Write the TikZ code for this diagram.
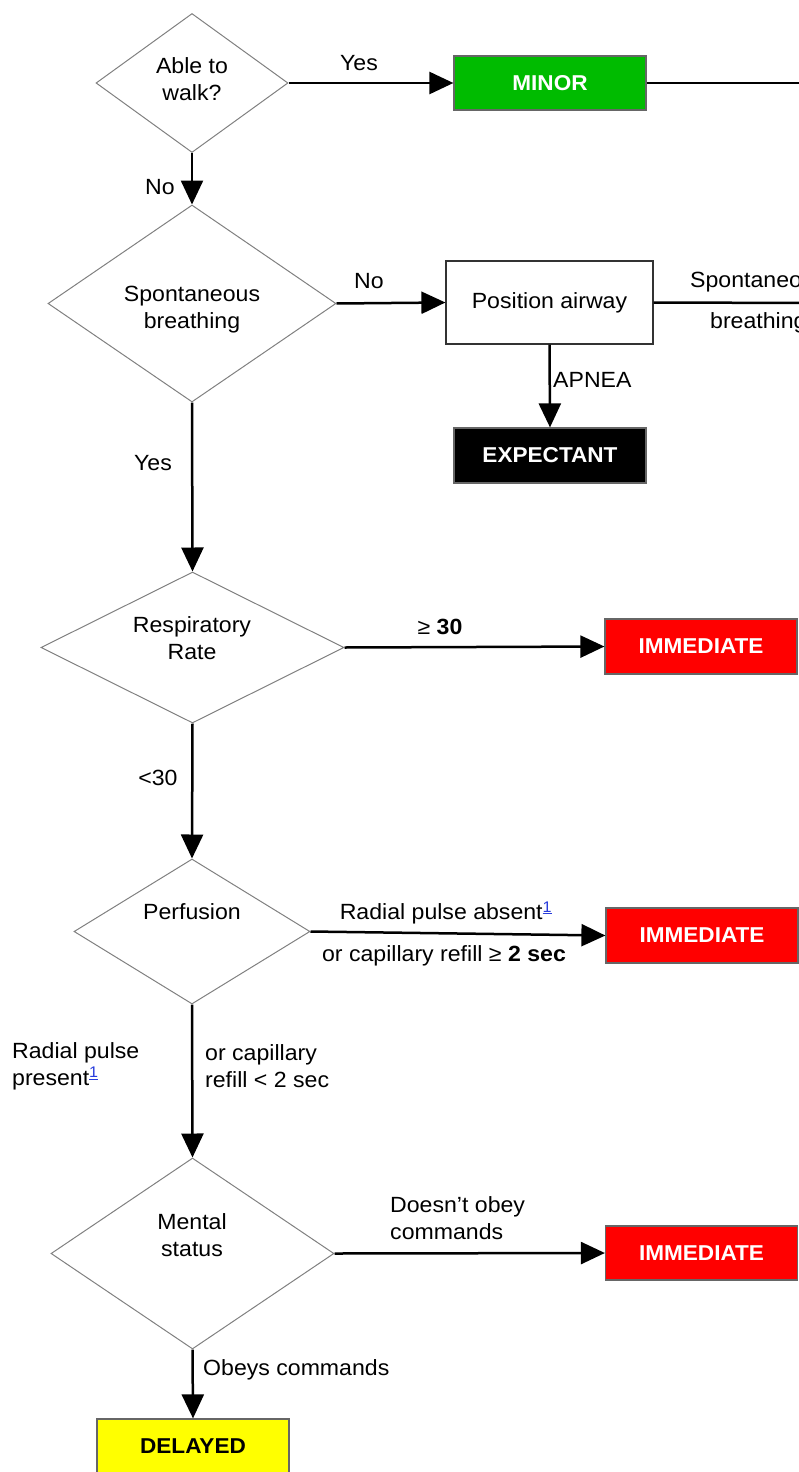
\documentclass[tikz,border=0pt]{standalone}
\usepackage{fontspec}
\setmainfont{Liberation Sans}[FakeStretch=1.05]
\usetikzlibrary{shapes.geometric,arrows.meta}
\definecolor{minorgreen}{RGB}{0,187,0}
\definecolor{immred}{RGB}{255,0,0}
\definecolor{delyellow}{RGB}{255,255,0}
\definecolor{linkblue}{RGB}{40,60,220}
\newcommand{\fsz}{\fontsize{22}{27}\selectfont}
\newcommand{\bsz}{\fontsize{21.5}{26}\selectfont}
\newcommand{\fnref}{\textsuperscript{\color{linkblue}\underline{1}}}
\tikzset{
  dec/.style={diamond, draw=black!50, line width=1pt, inner sep=0pt, aspect=1},
  catbox/.style={rectangle, draw=black!60, line width=1.2pt, inner sep=0pt,
    font=\bfseries\bsz, text=white, minimum width=192pt, minimum height=54pt},
  conn/.style={line width=2.5pt, -{Triangle[length=24pt,width=22pt]}},
  plainline/.style={line width=2.5pt},
  lbl/.style={font=\fsz, inner sep=0pt, align=left},
  dtext/.style={font=\fsz, inner sep=0pt, align=center},
}
\begin{document}
\begin{tikzpicture}[x=1pt,y=-1pt]
\useasboundingbox (0,0) rectangle (799,1472);
\begin{scope}
\clip (0,0) rectangle (799,1472);
% decisions
\node[dec, minimum width=192pt, minimum height=139pt] (d1) at (192,83) {};
\node[dtext] (t1) at (192,79) {Able to\\walk?};
\node[dec, minimum width=288pt, minimum height=197pt] (d2) at (192,303.5) {};
\node[dtext] (t2) at (192,310) {Spontaneous\\breathing};
\node[dec, minimum width=303pt, minimum height=151pt] (d3) at (192.5,647.5) {};
\node[dtext] (t3) at (192,638.5) {Respiratory\\Rate};
\node[dec, minimum width=236pt, minimum height=145pt] (d4) at (192,931.5) {};
\node[dtext] (t4) at (192,912) {Perfusion};
\node[dec, minimum width=283pt, minimum height=191pt] (d5) at (192.5,1253.5) {};
\node[dtext] (t5) at (192,1235.5) {Mental\\status};
% boxes
\node[catbox, fill=minorgreen] (minor) at (550,83) {MINOR};
\node[rectangle, draw=black!80, line width=1.2pt, inner sep=0pt, font=\fsz,
  minimum width=207pt, minimum height=83pt] (pa) at (549.5,302.5) {Position airway};
\node[catbox, fill=black, minimum height=55pt] (exp) at (550,455.5) {EXPECTANT};
\node[catbox, fill=immred, minimum height=55pt] (imm1) at (701,646.5) {IMMEDIATE};
\node[catbox, fill=immred, minimum height=55pt] (imm2) at (702,935.5) {IMMEDIATE};
\node[catbox, fill=immred] (imm3) at (701.5,1253) {IMMEDIATE};
\node[catbox, fill=delyellow, text=black, minimum height=55pt] (del) at (193,1446.5) {DELAYED};
\coordinate (r1) at (812,83);
\coordinate (r2) at (812,303);
% connectors
\draw[conn] (d1.east) -- (minor.west);
\draw[plainline] (minor.east) -- (r1);
\draw[conn] (d1.south) -- (d2.north);
\draw[conn] (d2.east) -- (pa.west);
\draw[plainline] (pa.east) -- (r2);
\draw[conn] (pa.south) -- (exp.north);
\draw[conn] (d2.south) -- (d3.north);
\draw[conn] (d3.east) -- (imm1.west);
\draw[conn] (d3.south) -- (d4.north);
\draw[conn] (d4.east) -- (imm2.west);
\draw[conn] (d4.south) -- (d5.north);
\draw[conn] (d5.east) -- (imm3.west);
\draw[conn] (d5.south) -- (del.north);
% labels
\node[lbl] (l1) at (359,63) {Yes};
\node[lbl] (l2) at (160,187) {No};
\node[lbl] (l3) at (369,281) {No};
\node[lbl, anchor=west] (l4) at (690,282) {Spontaneous};
\node[lbl, anchor=west] (l5) at (710,323) {breathing};
\node[lbl, anchor=west] (l6) at (553,380) {APNEA};
\node[lbl] (l7) at (153,463) {Yes};
\node[lbl] (l8) at (440,627) {≥ \textbf{30}};
\node[lbl] (l9) at (158,778) {<30};
\node[lbl] (l10) at (446,913) {Radial pulse absent\fnref};
\node[lbl] (l11) at (444,956) {or capillary refill ≥ \textbf{2 sec}};
\node[lbl, anchor=west] (l12) at (12,1066) {Radial pulse\\present\fnref};
\node[lbl, anchor=west] (l13) at (205,1066) {or capillary\\refill < 2 sec};
\node[lbl, anchor=west] (l14) at (390,1218) {Doesn't obey\\commands};
\node[lbl, anchor=west] (l15) at (203,1370) {Obeys commands};
\end{scope}
\end{tikzpicture}
\end{document}
